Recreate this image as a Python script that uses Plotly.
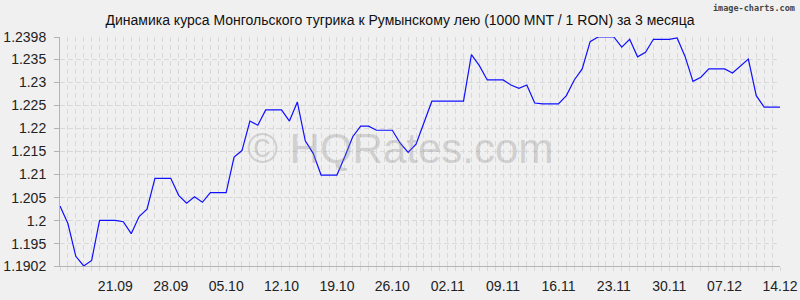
import pandas as pd
import plotly.graph_objects as go

start_date = "2025-09-14"
values = [
    1.2032, 1.1994, 1.1923, 1.1902, 1.1914, 1.2001, 1.2001, 1.2001, 1.1998, 1.1972,
    1.2009, 1.2025, 1.2092, 1.2092, 1.2092, 1.2055, 1.2038, 1.2052, 1.2040, 1.2061,
    1.2061, 1.2061, 1.2138, 1.2152, 1.2216, 1.2207, 1.2240, 1.2240, 1.2240, 1.2216,
    1.2257, 1.2173, 1.2146, 1.2099, 1.2099, 1.2099, 1.2139, 1.2182, 1.2205, 1.2205,
    1.2196, 1.2196, 1.2196, 1.2168, 1.2148, 1.2166, 1.2213, 1.2259, 1.2259, 1.2259,
    1.2259, 1.2259, 1.2360, 1.2336, 1.2305, 1.2305, 1.2305, 1.2294, 1.2287, 1.2294,
    1.2255, 1.2253, 1.2253, 1.2253, 1.2271, 1.2305, 1.2329, 1.2388, 1.2398, 1.2398,
    1.2398, 1.2376, 1.2393, 1.2355, 1.2365, 1.2393, 1.2393, 1.2393, 1.2396, 1.2356,
    1.2302, 1.2311, 1.2329, 1.2329, 1.2329, 1.2320, 1.2336, 1.2350, 1.2271, 1.2246,
    1.2246, 1.2246,
]
dates = pd.date_range(start_date, periods=len(values), freq="D")

y_ticks = [1.1902, 1.195, 1.2, 1.205, 1.21, 1.215, 1.22, 1.225, 1.23, 1.235, 1.2398]
y_labels = ["1.1902", "1.195", "1.2", "1.205", "1.21", "1.215", "1.22", "1.225", "1.23", "1.235", "1.2398"]
x_tick_dates = ["2025-09-21", "2025-09-28", "2025-10-05", "2025-10-12", "2025-10-19",
                "2025-10-26", "2025-11-02", "2025-11-09", "2025-11-16", "2025-11-23",
                "2025-11-30", "2025-12-07", "2025-12-14"]
x_labels = ["21.09", "28.09", "05.10", "12.10", "19.10", "26.10", "02.11", "09.11",
            "16.11", "23.11", "30.11", "07.12", "14.12"]

title = "Динамика курса Монгольского тугрика к Румынскому лею (1000 MNT / 1 RON) за 3 месяца"

BG = "#f0f0f0"
GRID = "#d9d9d9"
AXIS = "#b4b4b4"
FONT = "Liberation Sans, Arial, sans-serif"

fig = go.Figure()
fig.add_trace(go.Scatter(x=dates, y=values, mode="lines",
                         line=dict(color="#1010ff", width=1.2),
                         hoverinfo="skip", showlegend=False))

fig.update_layout(
    width=800, height=300,
    margin=dict(l=60, r=20, t=37, b=34),
    paper_bgcolor=BG, plot_bgcolor=BG,
    font=dict(family=FONT, size=14, color="#222222"),
    title=dict(text=title, x=0.5, xanchor="center", xref="container",
               y=0.933, yanchor="middle", yref="container",
               font=dict(family=FONT, size=14, color="#111111")),
    showlegend=False,
)

fig.update_xaxes(
    type="date",
    range=[dates[0], dates[-1]],
    tickvals=x_tick_dates, ticktext=x_labels,
    showgrid=True, gridcolor=GRID, griddash="5px,3px", gridwidth=1,
    showline=True, linecolor=AXIS, linewidth=1,
    ticks="outside", ticklen=4, tickcolor=GRID,
    ticklabelstandoff=3,
    minor=dict(dtick=86400000, showgrid=True, gridcolor=GRID, griddash="5px,3px",
               ticks="outside", ticklen=4, tickcolor=GRID),
    zeroline=False, fixedrange=True, automargin=False,
)

fig.update_yaxes(
    range=[y_ticks[0], y_ticks[-1]],
    tickvals=y_ticks, ticktext=y_labels,
    showgrid=True, gridcolor=GRID, griddash="5px,3px", gridwidth=1,
    showline=True, linecolor=AXIS, linewidth=1,
    ticks="outside", ticklen=5, tickcolor=AXIS,
    ticklabelstandoff=5,
    zeroline=False, fixedrange=True, automargin=False,
)

fig.add_annotation(text="© HQRates.com", xref="paper", yref="paper",
                   x=0.472, y=0.515, xanchor="center", yanchor="middle",
                   showarrow=False,
                   font=dict(family=FONT, size=42, color="rgba(140,140,140,0.32)"))

fig.add_annotation(text="<b>image-charts.com</b>", xref="paper", yref="paper",
                   x=1.0, y=1.0, xanchor="right", yanchor="top",
                   xshift=17, yshift=36,
                   showarrow=False,
                   font=dict(family="DejaVu Sans Mono, monospace", size=8.5, color="#444444"))

fig.write_html("out.html", config={"displayModeBar": False})
